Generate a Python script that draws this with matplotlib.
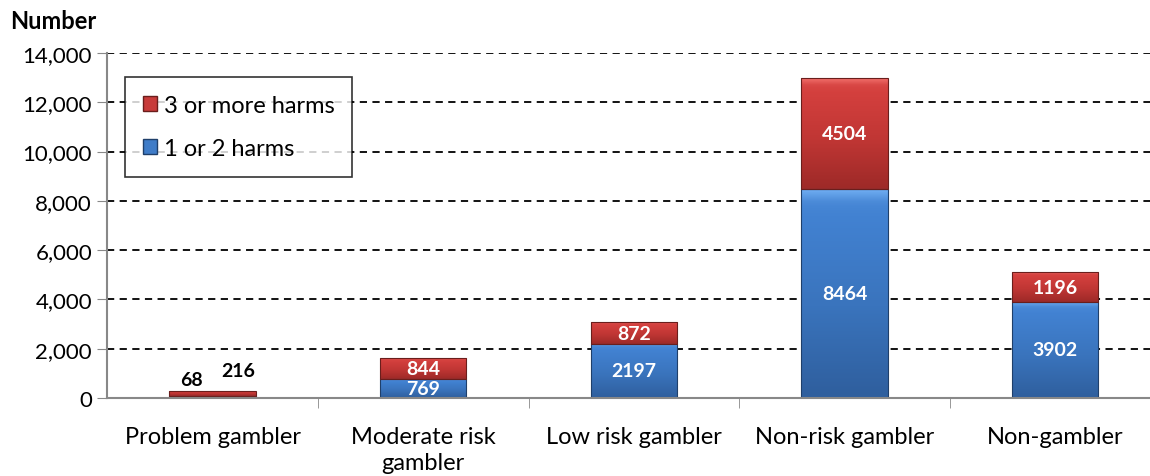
import numpy as np
import matplotlib
matplotlib.use('Agg')
import matplotlib.pyplot as plt
from matplotlib.patches import Patch
from matplotlib.colors import LinearSegmentedColormap

categories = ['Problem gambler', 'Moderate risk\ngambler', 'Low risk gambler',
              'Non-risk gambler', 'Non-gambler']
harms_1_2 = [68, 769, 2197, 8464, 3902]
harms_3plus = [216, 844, 872, 4504, 1196]
yticks = [0, 2000, 4000, 6000, 8000, 10000, 12000, 14000]

plt.rcParams['font.family'] = ['Lato', 'DejaVu Sans']

fig = plt.figure(figsize=(11.5, 4.77), dpi=100)
ax = fig.add_axes([0.0933, 0.1635, 0.9067, 0.7233])

x = np.arange(len(categories))
width = 0.41

blue_cmap = LinearSegmentedColormap.from_list('b', ['#6aa8ee', '#4282d2', '#3a74bd', '#2f5f9e'])
red_cmap = LinearSegmentedColormap.from_list('r', ['#ee6a66', '#d4403e', '#c03634', '#9e2a28'])

def shade(bars, cmap, edge):
    # fill each bar with a top-to-bottom gradient
    for b in bars:
        b.set_facecolor('none')
        b.set_edgecolor(edge)
        b.set_linewidth(0.8)
        x0, y0 = b.get_x(), b.get_y()
        w, h = b.get_width(), b.get_height()
        grad = np.concatenate([np.linspace(0, 0.25, 3), np.linspace(0.3, 1, 40)]).reshape(-1, 1)
        im = ax.imshow(grad, cmap=cmap, aspect='auto', extent=[x0, x0 + w, y0, y0 + h],
                       origin='upper', zorder=2, interpolation='bilinear')
        im.set_clip_path(b)

b1 = ax.bar(x, harms_1_2, width, zorder=3)
b2 = ax.bar(x, harms_3plus, width, bottom=harms_1_2, zorder=3)
shade(b1, blue_cmap, '#1f3f6a')
shade(b2, red_cmap, '#6a1e1c')

# value labels
for i in range(len(categories)):
    lo, hi = harms_1_2[i], harms_3plus[i]
    if i == 0:
        ax.text(x[i] - 0.1, 770, str(lo), ha='center', va='center', fontsize=14,
                fontweight='bold', color='black')
        ax.text(x[i] + 0.12, 1100, str(hi), ha='center', va='center', fontsize=14,
                fontweight='bold', color='black')
    else:
        ax.text(x[i], lo / 2, str(lo), ha='center', va='center', fontsize=14,
                fontweight='bold', color='white', zorder=5)
        ax.text(x[i], lo + hi / 2, str(hi), ha='center', va='center', fontsize=14,
                fontweight='bold', color='white', zorder=5)

ax.set_xlim(-0.5, 4.45)
ax.set_ylim(0, 14000)
ax.set_yticks(yticks)
ax.set_yticklabels([f'{v:,}' for v in yticks], fontsize=16)
ax.set_xticks(x)
ax.set_xticklabels(categories, fontsize=17, va='top', linespacing=1.3)
ax.set_xticks(np.arange(0.5, 4.5, 1), minor=True)
ax.tick_params(axis='x', which='major', length=0, pad=20)
ax.tick_params(axis='x', which='minor', length=7, color='#888888', direction='out')
ax.tick_params(axis='y', length=7, color='#888888', pad=4)

ax.yaxis.grid(True, color='black', linestyle=(0, (4, 3)), linewidth=1.3)
ax.set_axisbelow(True)
for s in ['top', 'right']:
    ax.spines[s].set_visible(False)
for s in ['left', 'bottom']:
    ax.spines[s].set_color('#888888')
    ax.spines[s].set_linewidth(1.5)
    ax.spines[s].set_zorder(4)

handles = [Patch(facecolor='#c83b3a', edgecolor='#6a1e1c', label='3 or more harms'),
           Patch(facecolor='#3f7cc8', edgecolor='#1f3f6a', label='1 or 2 harms')]
leg = ax.legend(handles=handles, loc='upper left', bbox_to_anchor=(0.017, 0.93),
                borderaxespad=0, fontsize=17, frameon=True, fancybox=False,
                handlelength=0.6, handleheight=0.6, handletextpad=0.3,
                labelspacing=0.95, borderpad=0.75)
leg.get_frame().set_edgecolor('black')
leg.get_frame().set_linewidth(1.2)
leg.set_zorder(6)

fig.text(0.009, 0.955, 'Number', fontsize=17, fontweight='bold', ha='left', va='center')

fig.savefig('out.png', dpi=100)
